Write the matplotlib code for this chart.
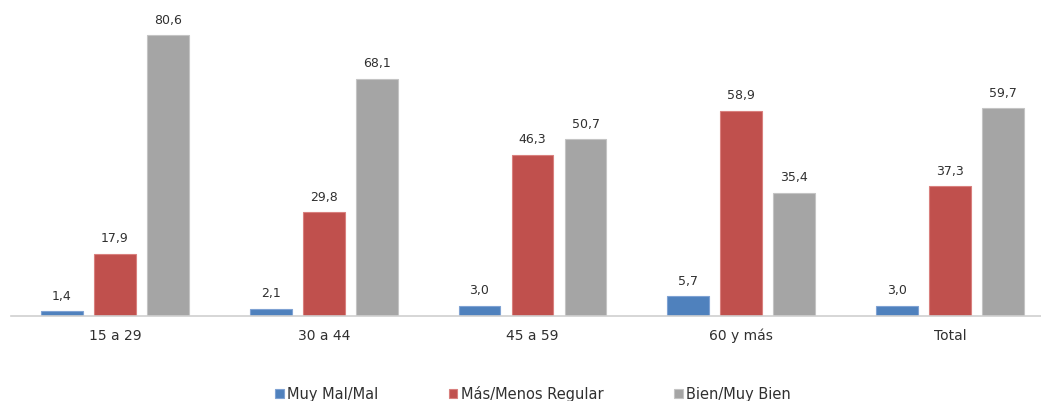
import matplotlib
matplotlib.use("Agg")
import matplotlib.pyplot as plt
import numpy as np

grupos = ["15 a 29", "30 a 44", "45 a 59", "60 y más", "Total"]
series = ["Muy Mal/Mal", "Más/Menos Regular", "Bien/Muy Bien"]
muy_mal = [1.4, 2.1, 3.0, 5.7, 3.0]
regular = [17.9, 29.8, 46.3, 58.9, 37.3]
bien = [80.6, 68.1, 50.7, 35.4, 59.7]
colores = ["#4F81BD", "#C0504D", "#A5A5A5"]
bordes = ["#7FA2D3", "#D9807E", "#C4C4C4"]

plt.rcParams['font.family'] = ['DejaVu Sans']

fig = plt.figure(figsize=(10.41, 4.01), dpi=100)
W, H = 1041, 401
# axes spans slightly past the right edge, like the original cropped chart
ax = fig.add_axes([10.5 / W, 85 / H, 1044 / W, 313.7 / H])

x = np.arange(len(grupos))
ancho = 0.2
paso = 0.254
valores = [muy_mal, regular, bien]
for i, vals in enumerate(valores):
    barras = ax.bar(x + (i - 1) * paso, vals, ancho, color=colores[i],
                    edgecolor=bordes[i], linewidth=0.8, label=series[i])
    for b, v in zip(barras, vals):
        ax.annotate(f"{v:.1f}".replace(".", ","),
                    (b.get_x() + b.get_width() / 2, b.get_height()),
                    xytext=(0, 6), textcoords="offset points",
                    ha="center", va="bottom", fontsize=9, color="#303030")

ax.set_xlim(-0.5, len(grupos) - 0.5)
ax.set_ylim(0, 90)
ax.set_xticks(x)
ax.set_xticklabels(grupos, fontsize=10, color="#303030")
ax.tick_params(axis="x", length=0, pad=9)
ax.set_yticks([])
for s in ["top", "right", "left"]:
    ax.spines[s].set_visible(False)
ax.spines["bottom"].set_color("#D0D0D0")
ax.spines["bottom"].set_linewidth(1.2)

fig.legend(loc="center", bbox_to_anchor=(533 / W, 7 / H), ncol=3,
           frameon=False, fontsize=10.5, handlelength=0.6, handleheight=0.6,
           handletextpad=0.25, columnspacing=4.8, labelcolor="#303030")

fig.savefig("out.png", dpi=100)
